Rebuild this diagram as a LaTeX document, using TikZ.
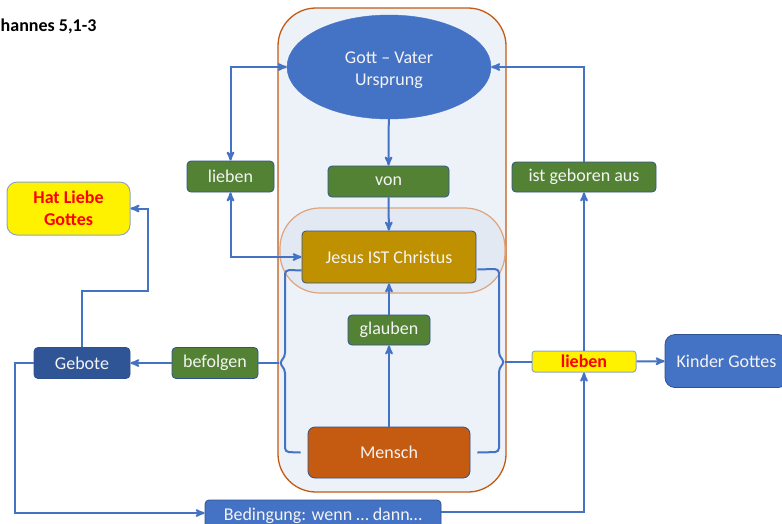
\documentclass[tikz,border=0pt]{standalone}
\usepackage{fontspec}
\setmainfont{Carlito}
\usetikzlibrary{shapes.geometric, arrows}

\definecolor{linkblue}{HTML}{4472C4}
\definecolor{boxline}{HTML}{2F528F}
\definecolor{boxtext}{HTML}{F4F4F4}
\definecolor{verbgreen}{HTML}{548235}
\definecolor{gebotblue}{HTML}{2F5597}
\definecolor{jesusgold}{HTML}{BF9000}
\definecolor{menschorange}{HTML}{C55A11}
\definecolor{framered}{HTML}{C55A11}
\definecolor{framefill}{HTML}{EDF1F8}
\definecolor{innerfill}{HTML}{E3E9F3}
\definecolor{hintline}{HTML}{8FA5C8}

\tikzset{
  box/.style={draw=boxline, line width=0.8pt, rounded corners=4pt, text=boxtext,
    minimum height=31pt, inner sep=2pt, align=center},
  verb/.style={box, fill=verbgreen},
  hint/.style={draw=hintline, line width=1pt, fill=yellow, text=red, font=\fontsize{18}{22}\selectfont\bfseries,
    inner sep=2pt, align=center},
  link/.style={draw=linkblue, line width=2pt},
  flow/.style={link, ->},
  both/.style={link, <->}
}

\begin{document}
\begin{tikzpicture}[x=1pt,y=-1pt,>=stealth',font=\fontsize{18}{22}\selectfont]
\useasboundingbox (0,0) rectangle (782,523);

% Rahmen
\node[draw=framered, fill=framefill, line width=1.3pt, rounded corners=38pt,
  minimum width=228pt, minimum height=484pt] (rahmen) at (392,250) {};
\node[draw=framered!55, fill=innerfill, line width=1.2pt, rounded corners=40pt,
  minimum width=225pt, minimum height=85pt] (kern) at (392.5,250.5) {};

\node[anchor=base west, inner sep=0, font=\fontsize{18}{22}\selectfont\bfseries] (titel) at (0.5,31) {hannes 5,1-3};

% Mitte
\node[ellipse, draw=linkblue, fill=linkblue, text=boxtext, align=center, inner sep=0,
  minimum width=204pt, minimum height=104pt] (gott) at (389,67) {\rule{0pt}{19pt}Gott – Vater\\Ursprung};
\node[verb, minimum width=121pt] (von) at (388.5,181.5) {von};
\node[box, fill=jesusgold, minimum width=174pt, minimum height=52pt] (jesus) at (389,257) {Jesus IST Christus};
\node[verb, minimum width=82pt, minimum height=30pt] (glauben) at (389,330) {glauben};
\node[box, fill=menschorange, rounded corners=7pt, minimum width=162pt, minimum height=51pt] (mensch) at (389,452.5) {Mensch};

% links
\node[verb, minimum width=87pt] (liebenL) at (230.5,176.5) {lieben};
\node[hint, rounded corners=10pt, minimum width=123pt, minimum height=53pt] (hatliebe) at (68.5,208.5) {Hat Liebe\\Gottes};
\node[box, fill=gebotblue, minimum width=96pt] (gebote) at (82,363) {Gebote};
\node[verb, minimum width=86pt] (befolgen) at (215,363) {befolgen};

% rechts
\node[verb, minimum width=144pt, minimum height=30pt] (geboren) at (584,177) {ist geboren aus};
\node[hint, rounded corners=3pt, minimum width=104pt, minimum height=21pt, inner sep=0] (liebenY) at (584,361.5) {lieben};
\node[box, fill=linkblue, rounded corners=10pt, minimum width=123pt, minimum height=53pt] (kinder) at (726.5,361) {Kinder Gottes};

% unten
\node[box, fill=linkblue, minimum width=236pt] (bedingung) at (323,515.5) {Bedingung: wenn … dann…};

\coordinate (lbtip) at (279,363);
\coordinate (rbtip) at (505,362);
\coordinate (knick) at (148,291);

\path[flow]
  (gott) edge (von)
  (von) edge (jesus)
  (mensch) edge (glauben)
  (glauben) edge (jesus)
  (befolgen) edge (gebote)
  (liebenY) edge (kinder)
  (liebenY) edge (geboren);

\draw[both] (liebenL.north) |- (gott.west);
\draw[both] (liebenL.south) |- (jesus.west);
\draw[flow] (geboren.north) |- (gott.east);
\draw[flow] ([yshift=3.5pt]bedingung.east) -| (liebenY.south);
\draw[flow] (gebote.west) -- ++(-19,0) |- ([yshift=2.5pt]bedingung.west);
\draw[flow] (gebote.north) |- (knick) |- (hatliebe.east);

% Klammern
\draw[link, rounded corners=4pt] ([yshift=13pt]jesus.south west) -- (285,270) -- (285,357)
  -- (lbtip) -- (285,369) -- (285,452) -- ([xshift=-7pt]mensch.west);
\draw[link, rounded corners=4pt] ([xshift=1pt,yshift=14pt]jesus.south east) -- (499,269) -- (499,356)
  -- (rbtip) -- (499,368) -- (499,452) -- ([xshift=7pt]mensch.east);
\draw[link] (lbtip) -- (lbtip -| befolgen.east);
\draw[link] (rbtip) -- (rbtip -| liebenY.west);
\end{tikzpicture}
\end{document}
